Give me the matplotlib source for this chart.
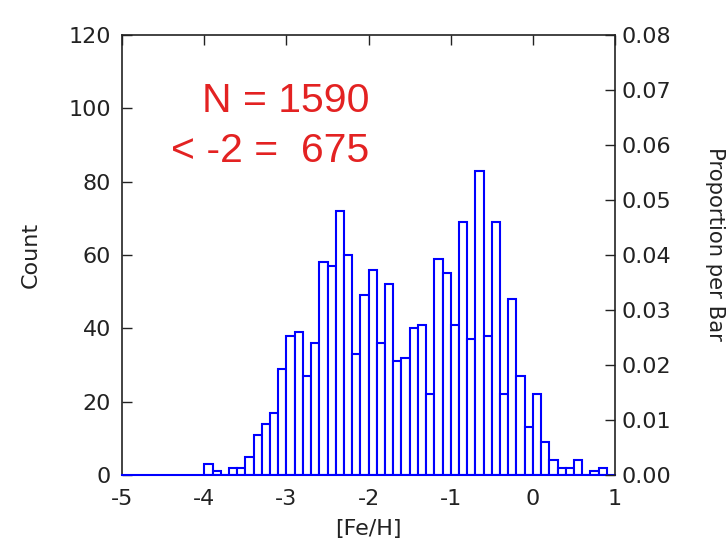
import matplotlib
matplotlib.use("Agg")
import matplotlib.pyplot as plt
import numpy as np

plt.rcParams['font.family'] = ['DejaVu Sans']
plt.rcParams['axes.unicode_minus'] = False

# Histogram bins: left edges from -4.0 in steps of 0.1
bin_left = [round(-4.0 + 0.1 * i, 1) for i in range(49)]
counts = [3, 1, 0, 2, 2, 5, 11, 14, 17, 29,
          38, 39, 27, 36, 58, 57, 72, 60, 33, 49,
          56, 36, 52, 31, 32, 40, 41, 22, 59, 55,
          41, 69, 37, 83, 38, 69, 22, 48, 27, 13,
          22, 9, 4, 2, 2, 4, 0, 1, 2]
bin_width = 0.1

x_ticks = [-5, -4, -3, -2, -1, 0, 1]
y_ticks = [0, 20, 40, 60, 80, 100, 120]
prop_ticks = [0.00, 0.01, 0.02, 0.03, 0.04, 0.05, 0.06, 0.07, 0.08]

txt = '#222222'

fig = plt.figure(figsize=(7.27, 5.43), dpi=100)
ax = fig.add_axes([0.168, 0.125, 0.678, 0.8105])

ax.bar(bin_left, counts, width=bin_width, align='edge',
       facecolor='white', edgecolor='#0000ff', linewidth=1.5, zorder=3)

ax.set_xlim(-5, 1)
ax.set_ylim(0, 120)
ax.set_xticks(x_ticks)
ax.set_yticks(y_ticks)
ax.tick_params(axis='x', bottom=False, top=True, direction='in', length=7,
               width=1, labelsize=16, pad=10, colors=txt)
ax.tick_params(axis='y', left=True, right=False, direction='in', length=7,
               width=1, labelsize=16, pad=8, colors=txt)
for s in ['left', 'top']:
    ax.spines[s].set_color(txt)
    ax.spines[s].set_linewidth(1.2)
ax.spines['right'].set_visible(False)
ax.spines['bottom'].set_color('#0000ff')
ax.spines['bottom'].set_linewidth(1.5)
ax.spines['bottom'].set_zorder(4)

ax.set_xlabel('[Fe/H]', fontsize=16, color=txt, labelpad=7)
ax.set_ylabel('Count', fontsize=16, color=txt, labelpad=20)

ax2 = ax.twinx()
ax2.set_ylim(0, 0.08)
ax2.set_yticks(prop_ticks)
ax2.set_yticklabels([f"{v:.2f}" for v in prop_ticks])
ax2.tick_params(axis='y', right=True, direction='in', length=7, width=1,
                labelsize=16, pad=5, colors=txt)
for s in ['left', 'top', 'bottom']:
    ax2.spines[s].set_visible(False)
ax2.spines['right'].set_color(txt)
ax2.spines['right'].set_linewidth(1.2)
ax2.set_ylabel('Proportion per Bar', fontsize=15.2, color=txt,
               rotation=270, labelpad=38)
ax2.yaxis.label.set_y(0.525)

red_font = ['Liberation Sans', 'DejaVu Sans']
ax.text(0.502, 0.825, 'N = 1590', transform=ax.transAxes, ha='right',
        va='baseline', fontsize=29.5, color='#e32222', family=red_font)
ax.text(0.502, 0.711, '< -2 =  675', transform=ax.transAxes, ha='right',
        va='baseline', fontsize=29.5, color='#e32222', family=red_font)

fig.savefig('out.png', dpi=100)
